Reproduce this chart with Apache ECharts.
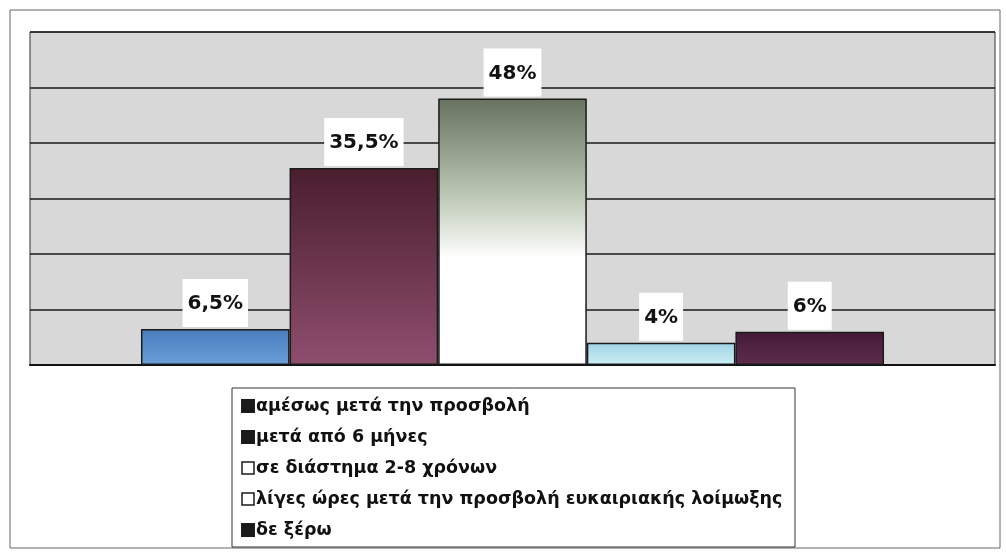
<!DOCTYPE html>
<html><head><meta charset="utf-8">
<script src="https://cdn.jsdelivr.net/npm/echarts@6/dist/echarts.min.js"></script>
<style>html,body{margin:0;padding:0;background:#fff}#c{width:1006px;height:554px}</style>
</head><body><div id="c"></div>
<script>
const categories = [''];
const seriesNames = ['αμέσως μετά την προσβολή','μετά από 6 μήνες','σε διάστημα 2-8 χρόνων','λίγες ώρες μετά την προσβολή ευκαιριακής λοίμωξης','δε ξέρω'];
const seriesValues = [6.5, 35.5, 48, 4, 6];
const yTicks = [0, 10, 20, 30, 40, 50, 60];

const grad = (a, b) => new echarts.graphic.LinearGradient(0, 0, 0, 1, [{offset:0,color:a},{offset:1,color:b}]);
const fills = [
  grad('#4a7cbc', '#6aa0da'),
  grad('#4a1e2e', '#8e4e6e'),
  new echarts.graphic.LinearGradient(0, 0, 0, 1, [{offset:0,color:'#68735f'},{offset:0.35,color:'#b8c4b0'},{offset:0.6,color:'#ffffff'},{offset:1,color:'#ffffff'}]),
  grad('#9fd2e4', '#cdeff6'),
  grad('#431a36', '#5e2c4e')
];
const legendIcons = [
  {color:'#1a1a1a'},
  {color:'#1a1a1a'},
  {color:'#ffffff', borderColor:'#1a1a1a', borderWidth:1.5},
  {color:'#ffffff', borderColor:'#1a1a1a', borderWidth:1.5},
  {color:'#1a1a1a'}
];
const FONT = '"DejaVu Sans", Verdana, sans-serif';

const chart = echarts.init(document.getElementById('c'));
chart.setOption({
  animation: false,
  backgroundColor: '#fff',
  graphic: [
    {type:'rect', shape:{x:10, y:10, width:990, height:538}, style:{fill:'none', stroke:'#666', lineWidth:1}, z:-10},
    {type:'rect', shape:{x:232, y:388, width:563, height:159}, style:{fill:'#fff', stroke:'#333', lineWidth:1}, z:-5}
  ],
  grid: {left:30, right:11, top:32, bottom:189, show:true, backgroundColor:'#d8d8d8', borderColor:'#333', borderWidth:1},
  xAxis: {type:'category', data:categories, axisLine:{show:true, lineStyle:{color:'#111', width:2}}, axisTick:{show:false}, axisLabel:{show:false}},
  yAxis: {type:'value', min:yTicks[0], max:yTicks[yTicks.length-1], interval:10, axisLabel:{show:false}, axisLine:{show:false}, axisTick:{show:false},
    splitLine:{show:true, lineStyle:{color:'#1a1a1a', width:1.5}}},
  legend: {
    orient:'vertical', left:236, top:391, itemWidth:12, itemHeight:12, itemGap:11,
    textStyle:{fontFamily:FONT, fontWeight:'bold', fontSize:17.5, lineHeight:20, color:'#111', padding:[0,0,0,-3]},
    data: seriesNames.map((n,i)=>({name:n, icon:'rect', itemStyle:legendIcons[i]}))
  },
  series: seriesNames.map((n,i)=>({
    name:n, type:'bar', barGap:'0%', barCategoryGap:'23%',
    data:[seriesValues[i]],
    itemStyle:{color:fills[i], borderColor:'#1a1a1a', borderWidth:1.5},
    label:{show:true, position:'top', distance:2, formatter:(p)=>String(p.value).replace('.', ',')+'%',
      backgroundColor:'#fff', padding:[15,5,13,5], color:'#111', fontWeight:'bold', fontSize:20, fontFamily:FONT}
  }))
});
</script></body></html>
